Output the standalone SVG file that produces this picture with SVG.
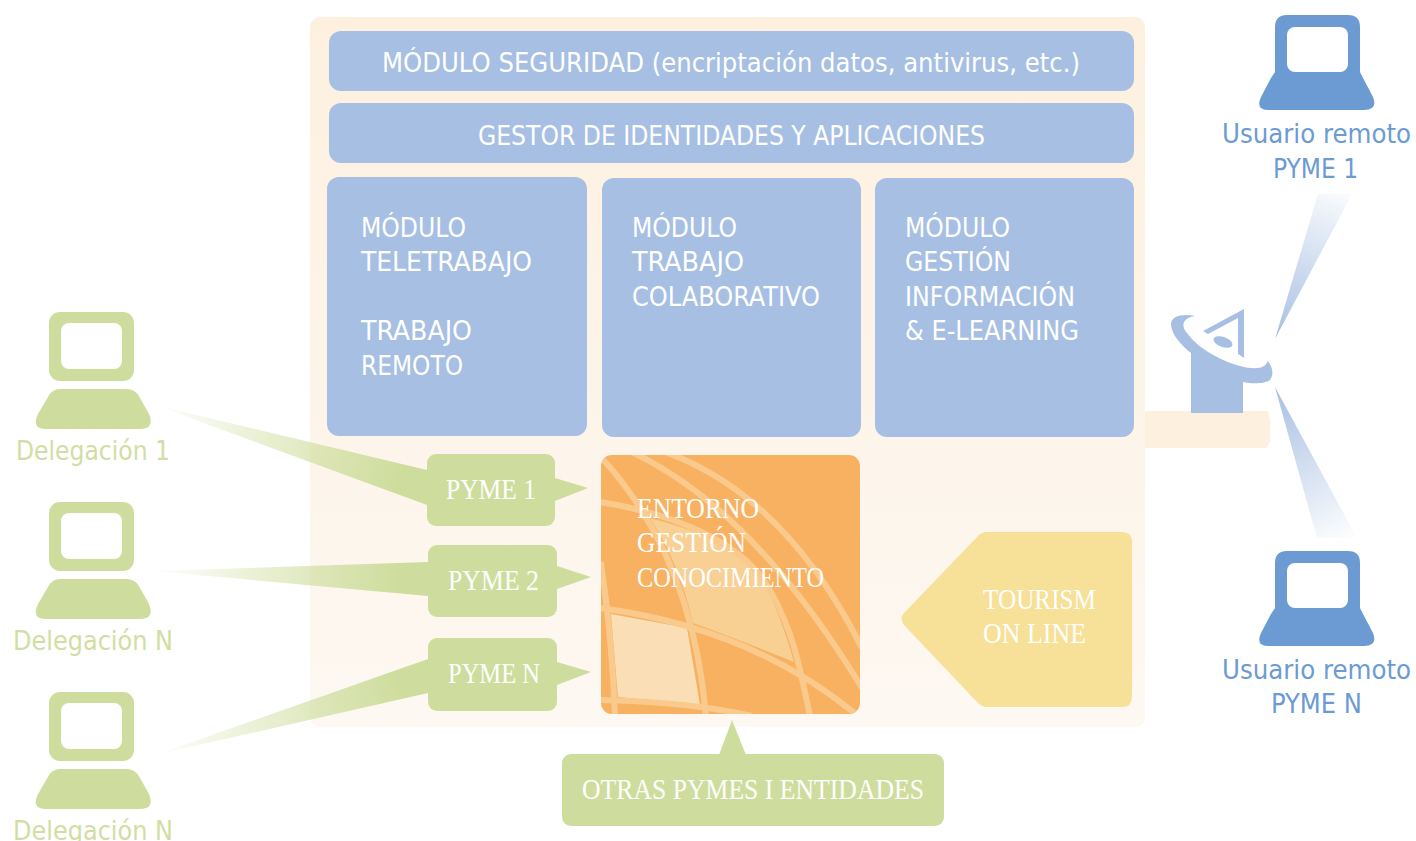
<svg xmlns="http://www.w3.org/2000/svg" width="1416" height="841" viewBox="0 0 1416 841">
<style>
text{font-size:26px}
.s{font-family:"DejaVu Sans","Open Sans",sans-serif;font-stretch:condensed}
.f{font-family:"Liberation Serif","DejaVu Serif",serif;fill:#fff;font-size:30px}
.w{fill:#fff}
.g{fill:#cedd9d}
.b{fill:#a7bfe3}
.u{fill:#6b9bd2}
.lg{fill:#d1dea3}
.c{fill:none;stroke:#f9ca8c;stroke-width:6}
</style>
<defs>
<linearGradient id="panel" x1="0" y1="0" x2="0" y2="1"><stop offset="0" stop-color="#fdf0df"/><stop offset="1" stop-color="#fdf8f2"/></linearGradient>
<linearGradient id="r1" gradientUnits="userSpaceOnUse" x1="150" y1="405" x2="427" y2="488"><stop offset="0" stop-color="#cedd9d" stop-opacity="0"/><stop offset=".9" stop-color="#cedd9d"/></linearGradient>
<linearGradient id="r2" gradientUnits="userSpaceOnUse" x1="148" y1="571" x2="428" y2="579"><stop offset="0" stop-color="#cedd9d" stop-opacity="0"/><stop offset=".9" stop-color="#cedd9d"/></linearGradient>
<linearGradient id="r3" gradientUnits="userSpaceOnUse" x1="150" y1="755" x2="428" y2="676"><stop offset="0" stop-color="#cedd9d" stop-opacity="0"/><stop offset=".9" stop-color="#cedd9d"/></linearGradient>
<linearGradient id="s1" gradientUnits="userSpaceOnUse" x1="1275" y1="339" x2="1342" y2="180"><stop offset="0" stop-color="#a7bfe3"/><stop offset="1" stop-color="#a7bfe3" stop-opacity="0"/></linearGradient>
<linearGradient id="s2" gradientUnits="userSpaceOnUse" x1="1275" y1="387" x2="1345" y2="545"><stop offset="0" stop-color="#a7bfe3"/><stop offset="1" stop-color="#a7bfe3" stop-opacity="0"/></linearGradient>
<clipPath id="gc"><rect x="601" y="455" width="259" height="259" rx="11"/></clipPath>
</defs>

<g id="panel-group"><rect x="310" y="17" width="835" height="710" rx="10" fill="url(#panel)"/><path d="M1145 411H1268L1270 420V442L1266 448H1145Z" fill="#fdf0df"/></g>

<g id="connectors">
<polygon points="155,405 427,470 427,505" fill="url(#r1)"/>
<polygon points="153,571 428,562 428,596" fill="url(#r2)"/>
<polygon points="155,755 428,659 428,693" fill="url(#r3)"/>
<polygon points="1275,339 1318,194 1352,194" fill="url(#s1)"/>
<polygon points="1275,387 1317,538 1357,538" fill="url(#s2)"/>
</g>

<g id="mod-seguridad"><rect class="b" x="329" y="31" width="805" height="60" rx="12"/><text class="s w" x="382" y="72" textLength="698" lengthAdjust="spacingAndGlyphs">MÓDULO SEGURIDAD (encriptación datos, antivirus, etc.)</text></g>
<g id="gestor"><rect class="b" x="329" y="103" width="805" height="60" rx="12"/><text class="s w" x="478" y="145" textLength="507" lengthAdjust="spacingAndGlyphs">GESTOR DE IDENTIDADES Y APLICACIONES</text></g>
<g id="mod-teletrabajo"><rect class="b" x="327" y="177" width="260" height="259" rx="12"/>
<text class="s w" x="361" y="237" textLength="105" lengthAdjust="spacingAndGlyphs">MÓDULO</text><text class="s w" x="361" y="271" textLength="171" lengthAdjust="spacingAndGlyphs">TELETRABAJO</text><text class="s w" x="361" y="340" textLength="111" lengthAdjust="spacingAndGlyphs">TRABAJO</text><text class="s w" x="361" y="375" textLength="102" lengthAdjust="spacingAndGlyphs">REMOTO</text></g>
<g id="mod-colaborativo"><rect class="b" x="602" y="178" width="259" height="259" rx="12"/>
<text class="s w" x="632" y="237" textLength="105" lengthAdjust="spacingAndGlyphs">MÓDULO</text><text class="s w" x="632" y="271" textLength="112" lengthAdjust="spacingAndGlyphs">TRABAJO</text><text class="s w" x="632" y="306" textLength="188" lengthAdjust="spacingAndGlyphs">COLABORATIVO</text></g>
<g id="mod-gestion"><rect class="b" x="875" y="178" width="259" height="259" rx="12"/>
<text class="s w" x="905" y="237" textLength="105" lengthAdjust="spacingAndGlyphs">MÓDULO</text><text class="s w" x="905" y="271" textLength="106" lengthAdjust="spacingAndGlyphs">GESTIÓN</text><text class="s w" x="905" y="306" textLength="170" lengthAdjust="spacingAndGlyphs">INFORMACIÓN</text><text class="s w" x="905" y="340" textLength="174" lengthAdjust="spacingAndGlyphs">&amp; E-LEARNING</text></g>

<g id="entorno"><rect x="601" y="455" width="259" height="259" rx="11" fill="#f7b161"/>
<g clip-path="url(#gc)">
<path d="M611 614L687 628L700 705L618 697Z" fill="#fadfb6"/>
<path d="M650 518Q715 535 750 560Q775 595 794 662Q740 640 693 623Q680 565 650 518Z" fill="#f8d094"/>
<path class="c" d="M665 452Q785 495 862 648"/>
<path class="c" d="M632 452Q754 510 862 688"/>
<path class="c" d="M600 456C650 510 695 590 706 716"/>
<path class="c" d="M600 502C680 515 745 545 770 590S800 670 810 716"/>
<path class="c" d="M600 608Q752 628 858 716"/>
<path class="c" d="M601 562Q612 640 615 716"/>
<path class="c" d="M600 700Q690 702 752 716"/>
</g>
<text class="f" x="637" y="518" textLength="122" lengthAdjust="spacingAndGlyphs">ENTORNO</text><text class="f" x="637" y="552" textLength="109" lengthAdjust="spacingAndGlyphs">GESTIÓN</text><text class="f" x="637" y="587" textLength="187" lengthAdjust="spacingAndGlyphs">CONOCIMIENTO</text></g>

<g id="tourism"><path d="M987 532H1122Q1132 532 1132 542V697Q1132 707 1122 707H987Q982 707 978 703L904 625Q899 619 904 613L978 536Q982 532 987 532Z" fill="#f7e097"/>
<text class="f" x="983" y="609" textLength="113" lengthAdjust="spacingAndGlyphs">TOURISM</text><text class="f" x="983" y="643" textLength="103" lengthAdjust="spacingAndGlyphs">ON LINE</text></g>

<g id="pyme1"><rect class="g" x="427" y="454" width="128" height="72" rx="9"/><polygon class="g" points="555,478 588,488 555,501"/><text class="f" x="446" y="499" textLength="90" lengthAdjust="spacingAndGlyphs">PYME 1</text></g>
<g id="pyme2"><rect class="g" x="428" y="545" width="129" height="72" rx="9"/><polygon class="g" points="557,566 591,577 557,589"/><text class="f" x="448" y="590" textLength="91" lengthAdjust="spacingAndGlyphs">PYME 2</text></g>
<g id="pymeN"><rect class="g" x="428" y="638" width="129" height="73" rx="9"/><polygon class="g" points="557,662 591,672 557,685"/><text class="f" x="448" y="683" textLength="92" lengthAdjust="spacingAndGlyphs">PYME N</text></g>
<g id="otras"><rect class="g" x="562" y="754" width="382" height="72" rx="9"/><polygon class="g" points="719,755 732,720 746,755"/><text class="f" x="582" y="799" textLength="342" lengthAdjust="spacingAndGlyphs">OTRAS PYMES I ENTIDADES</text></g>

<g id="antena" class="b">
<path d="M1195 316C1183 313 1170 316 1171 325C1172 335 1181 345 1191 353V413H1243V382C1252 384 1265 384 1270 380C1274 375 1273 367 1267 360L1210 330Z"/>
<path fill="#fff" d="M1195 316C1182 318 1181 326 1187 333C1197 347 1218 360 1240 366C1255 370 1266 369 1268 360L1250 320L1215 310Z"/>
<path d="M1244 309L1203 331L1208 334L1238 318V354L1244 358Z"/>
<ellipse cx="1223" cy="342" rx="10" ry="5" transform="rotate(20 1223 342)"/>
</g>

<g id="deleg1"><rect class="g" x="49" y="312" width="85" height="69" rx="11"/><rect x="61" y="323" width="61" height="46" rx="8" fill="#fff"/><path class="g" d="M60 389H126Q136 389 140 398L149 414Q155 429 140 429H46Q31 429 38 414L48 397Q52 389 60 389Z"/><text class="s lg" x="16" y="460" textLength="154" lengthAdjust="spacingAndGlyphs">Delegación 1</text></g>
<g id="delegN1"><rect class="g" x="49" y="502" width="85" height="69" rx="11"/><rect x="61" y="513" width="61" height="46" rx="8" fill="#fff"/><path class="g" d="M60 579H126Q136 579 140 588L149 604Q155 619 140 619H46Q31 619 38 604L48 587Q52 579 60 579Z"/><text class="s lg" x="13" y="650" textLength="160" lengthAdjust="spacingAndGlyphs">Delegación N</text></g>
<g id="delegN2"><rect class="g" x="49" y="692" width="85" height="69" rx="11"/><rect x="61" y="703" width="61" height="46" rx="8" fill="#fff"/><path class="g" d="M60 769H126Q136 769 140 778L149 794Q155 809 140 809H46Q31 809 38 794L48 777Q52 769 60 769Z"/><text class="s lg" x="13" y="840" textLength="160" lengthAdjust="spacingAndGlyphs">Delegación N</text></g>

<g id="usuario1"><path class="u" d="M1287 15H1348Q1360 15 1360 27V72L1363 78L1373 97Q1378 110 1364 110H1269Q1255 110 1261 97L1271 78L1275 72V27Q1275 15 1287 15Z"/><rect x="1287" y="27" width="61" height="45" rx="8" fill="#fff"/><text class="s u" x="1222" y="143" textLength="189" lengthAdjust="spacingAndGlyphs">Usuario remoto</text><text class="s u" x="1273" y="178" textLength="85" lengthAdjust="spacingAndGlyphs">PYME 1</text></g>
<g id="usuarioN"><path class="u" d="M1287 551H1348Q1360 551 1360 563V608L1363 614L1373 633Q1378 646 1364 646H1269Q1255 646 1261 633L1271 614L1275 608V563Q1275 551 1287 551Z"/><rect x="1287" y="563" width="61" height="45" rx="8" fill="#fff"/><text class="s u" x="1222" y="679" textLength="189" lengthAdjust="spacingAndGlyphs">Usuario remoto</text><text class="s u" x="1271" y="713" textLength="91" lengthAdjust="spacingAndGlyphs">PYME N</text></g>
</svg>
